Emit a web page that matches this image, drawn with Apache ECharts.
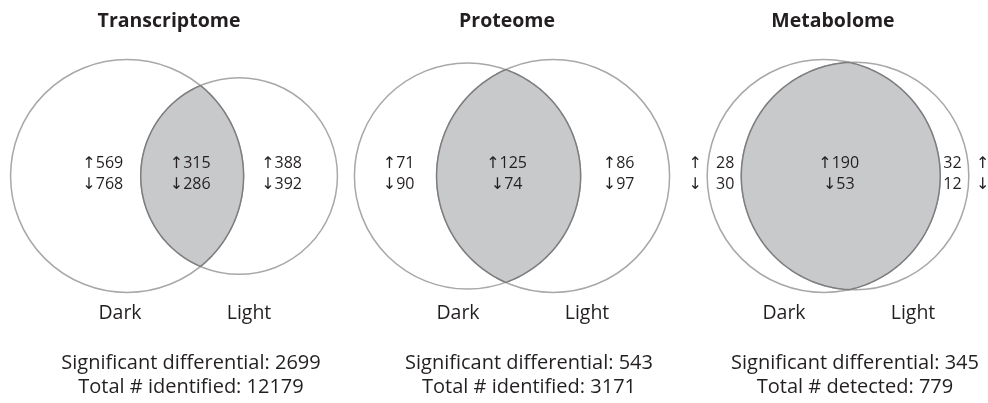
<!DOCTYPE html>
<html><head><meta charset="utf-8">
<script src="https://cdn.jsdelivr.net/npm/echarts@6/dist/echarts.min.js"></script>
<style>html,body{margin:0;padding:0;background:#fff}#c{width:988px;height:403px}</style>
</head><body><div id="c"></div>
<script>
// ---- data ----
const panels = ['Transcriptome', 'Proteome', 'Metabolome'];
const groups = ['Dark', 'Light'];
const darkOnlyUp = [569, 71, 28];
const darkOnlyDown = [768, 90, 30];
const sharedUp = [315, 125, 190];
const sharedDown = [286, 74, 53];
const lightOnlyUp = [388, 86, 32];
const lightOnlyDown = [392, 97, 12];
const sigDiff = [2699, 543, 345];
const totalCount = [12179, 3171, 779];
const totalWord = ['identified', 'identified', 'detected'];

// ---- layout (not data) ----
const panelX = [191, 529, 855];
const CY = 176;
const R = 116.5;
const FONT = '"Open Sans", "DejaVu Sans", sans-serif';
const TEXT = '#231f20';

function lensArea(r1, r2, d) {
  if (d >= r1 + r2) return 0;
  if (d <= Math.abs(r1 - r2)) return Math.PI * Math.min(r1, r2) ** 2;
  const a1 = Math.acos((d * d + r1 * r1 - r2 * r2) / (2 * d * r1));
  const a2 = Math.acos((d * d + r2 * r2 - r1 * r1) / (2 * d * r2));
  const k = 0.5 * Math.sqrt((-d + r1 + r2) * (d + r1 - r2) * (d - r1 + r2) * (d + r1 + r2));
  return r1 * r1 * a1 + r2 * r2 * a2 - k;
}
function solveD(r1, r2, target) {
  let lo = Math.abs(r1 - r2), hi = r1 + r2;
  for (let i = 0; i < 80; i++) {
    const mid = (lo + hi) / 2;
    if (lensArea(r1, r2, mid) > target) lo = mid; else hi = mid;
  }
  return (lo + hi) / 2;
}
function geometry(i) {
  const shared = sharedUp[i] + sharedDown[i];
  const dark = darkOnlyUp[i] + darkOnlyDown[i] + shared;
  const light = lightOnlyUp[i] + lightOnlyDown[i] + shared;
  const big = Math.max(dark, light);
  const r1 = R * Math.sqrt(dark / big);
  const r2 = R * Math.sqrt(light / big);
  const target = shared / big * Math.PI * R * R;
  const d = solveD(r1, r2, target);
  const bboxCenter = panelX[i] - 17;
  const x1 = bboxCenter - (d + r2 - r1) / 2;
  const x2 = x1 + d;
  return { r1, r2, d, x1, x2 };
}

const chart = echarts.init(document.getElementById('c'), null, { renderer: 'canvas' });

function renderItem(params, api) {
  const i = api.value(0);
  const g = geometry(i);
  const px = (x, y) => api.coord([x, y]);
  const sz = (v) => api.size([v, 0])[0];
  const c1 = px(g.x1, CY), c2 = px(g.x2, CY);
  const children = [];
  children.push({ type: 'circle', shape: { cx: c1[0], cy: c1[1], r: sz(g.r1) },
    style: { fill: 'none', stroke: '#a8a8aa', lineWidth: 1.5 } });
  children.push({ type: 'circle', shape: { cx: c2[0], cy: c2[1], r: sz(g.r2) },
    style: { fill: 'none', stroke: '#a8a8aa', lineWidth: 1.5 } });
  // lens
  const a = (g.d * g.d + g.r1 * g.r1 - g.r2 * g.r2) / (2 * g.d);
  const h = Math.sqrt(Math.max(0, g.r1 * g.r1 - a * a));
  const al = Math.atan2(h, a);
  const be = Math.atan2(h, a - g.d);
  const pts = [];
  const N = 120;
  for (let k = 0; k <= N; k++) {
    const t = -al + 2 * al * k / N;
    pts.push(px(g.x1 + g.r1 * Math.cos(t), CY + g.r1 * Math.sin(t)));
  }
  for (let k = 0; k <= N; k++) {
    const t = be + (2 * Math.PI - 2 * be) * k / N;
    pts.push(px(g.x2 + g.r2 * Math.cos(t), CY + g.r2 * Math.sin(t)));
  }
  children.push({ type: 'polygon', shape: { points: pts },
    style: { fill: '#c8c9cb', stroke: '#7e7e80', lineWidth: 1.5 } });

  const lensL = g.x2 - g.r2, lensR = g.x1 + g.r1;
  const leftEdge = g.x1 - g.r1, rightEdge = g.x2 + g.r2;
  const numStyle = { fontFamily: FONT, fontSize: 16, fill: TEXT, lineHeight: 20.5,
    align: 'center', verticalAlign: 'middle' };
  const txt = (x, y, text, extra) => {
    const p = px(x, y);
    return { type: 'text', style: Object.assign({}, numStyle, { x: p[0], y: p[1], text }, extra || {}) };
  };
  const ly = CY - 2;
  // shared
  children.push(txt((lensL + lensR) / 2 - 2, ly, '↑' + sharedUp[i] + '\n↓' + sharedDown[i]));
  // dark only
  if (lensL - leftEdge > 60) {
    children.push(txt(lensL - 38, ly, '↑' + darkOnlyUp[i] + '\n↓' + darkOnlyDown[i]));
  } else {
    children.push(txt((lensL + leftEdge) / 2 + 1, ly, darkOnlyUp[i] + '\n' + darkOnlyDown[i]));
    children.push(txt(leftEdge - 12, ly, '↑\n↓'));
  }
  // light only
  if (rightEdge - lensR > 60) {
    children.push(txt(lensR + 38, ly, '↑' + lightOnlyUp[i] + '\n↓' + lightOnlyDown[i]));
  } else {
    children.push(txt((lensR + rightEdge) / 2 - 2, ly, lightOnlyUp[i] + '\n' + lightOnlyDown[i]));
    children.push(txt(rightEdge + 14, ly, '↑\n↓'));
  }
  // titles & labels
  children.push(txt(panelX[i] - 22, 21, panels[i], { fontSize: 19.5, fontWeight: 'bold' }));
  children.push(txt(panelX[i] - 71, 313, groups[0], { fontSize: 19.5 }));
  children.push(txt(panelX[i] + 58, 313, groups[1], { fontSize: 19.5 }));
  children.push(txt(panelX[i], 363, 'Significant differential: ' + sigDiff[i], { fontSize: 20 }));
  children.push(txt(panelX[i], 387, 'Total # ' + totalWord[i] + ': ' + totalCount[i], { fontSize: 20 }));
  return { type: 'group', children };
}

chart.setOption({
  animation: false,
  grid: { left: 0, right: 0, top: 0, bottom: 0 },
  xAxis: { type: 'value', min: 0, max: 988, show: false },
  yAxis: { type: 'value', min: 0, max: 403, inverse: true, show: false },
  series: [{
    type: 'custom',
    coordinateSystem: 'cartesian2d',
    silent: true,
    clip: false,
    encode: { x: -1, y: -1 },
    data: panels.map((p, i) => [i]),
    renderItem
  }]
});
</script>
</body></html>
